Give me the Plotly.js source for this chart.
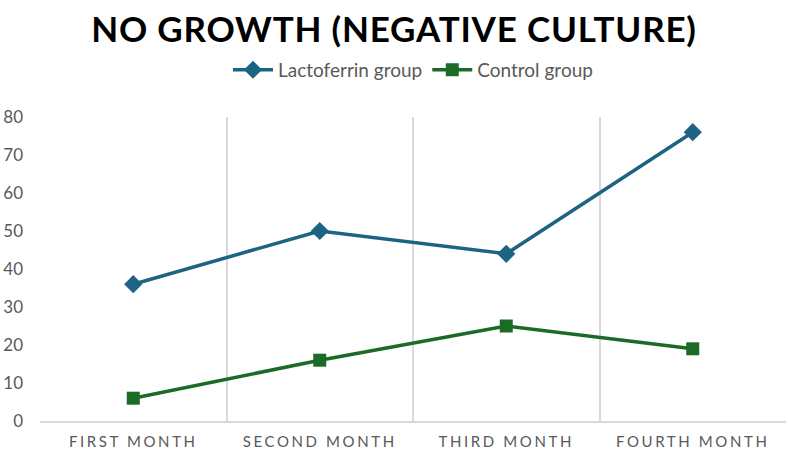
<!DOCTYPE html>
<html>
<head>
<meta charset="utf-8">
<script src="https://cdn.plot.ly/plotly-3.0.1.min.js"></script>
<style>
  body { margin: 0; }
  .xtick text { letter-spacing: 2.6px; }
  .gtitle { letter-spacing: 0.8px; }
</style>
</head>
<body>
<div id="plot1" style="width:788px;height:451px;"></div>
<script>
var months = ['FIRST MONTH', 'SECOND MONTH', 'THIRD MONTH', 'FOURTH MONTH'];
var lactoferrin = [36, 50, 44, 76];
var control = [6, 16, 25, 19];

var lacto = {
  x: months,
  y: lactoferrin,
  name: 'Lactoferrin group',
  type: 'scatter',
  mode: 'lines+markers',
  line: {color: '#1c6384', width: 3.5},
  marker: {symbol: 'diamond', size: 14, color: '#1c6384'}
};

var ctrl = {
  x: months,
  y: control,
  name: 'Control group',
  type: 'scatter',
  mode: 'lines+markers',
  line: {color: '#1b6b27', width: 3.5},
  marker: {symbol: 'square', size: 13, color: '#1b6b27'}
};

var layout = {
  width: 788,
  height: 451,
  margin: {l: 40, r: 2, t: 117, b: 30},
  paper_bgcolor: '#ffffff',
  plot_bgcolor: '#ffffff',
  font: {family: 'Lato, sans-serif', color: '#595959'},
  title: {
    text: '<b>NO GROWTH (NEGATIVE CULTURE)</b>',
    font: {family: 'Lato, sans-serif', size: 35, color: '#000000'},
    x: 0.5, xanchor: 'center', y: 0.935, yanchor: 'middle'
  },
  showlegend: true,
  legend: {
    orientation: 'h', x: 0.5, xanchor: 'center', y: 1.155, yanchor: 'middle',
    font: {family: 'Lato, sans-serif', size: 19, color: '#595959'},
    itemwidth: 40
  },
  xaxis: {
    type: 'category',
    range: [-0.5, 3.5],
    tickson: 'boundaries',
    showgrid: true,
    gridcolor: '#d9d9d9',
    gridwidth: 2,
    showline: true,
    linecolor: '#d9d9d9',
    linewidth: 2,
    ticks: '',
    ticklabelstandoff: 6,
    tickfont: {family: 'Lato, sans-serif', size: 15, color: '#595959'},
    fixedrange: true
  },
  yaxis: {
    range: [0, 80],
    dtick: 10,
    showgrid: false,
    zeroline: false,
    showline: false,
    ticks: '',
    ticklabelstandoff: 16,
    tickfont: {family: 'Lato, sans-serif', size: 17, color: '#595959'},
    fixedrange: true
  }
};

Plotly.newPlot('plot1', [lacto, ctrl], layout, {displayModeBar: false});
</script>
</body>
</html>
